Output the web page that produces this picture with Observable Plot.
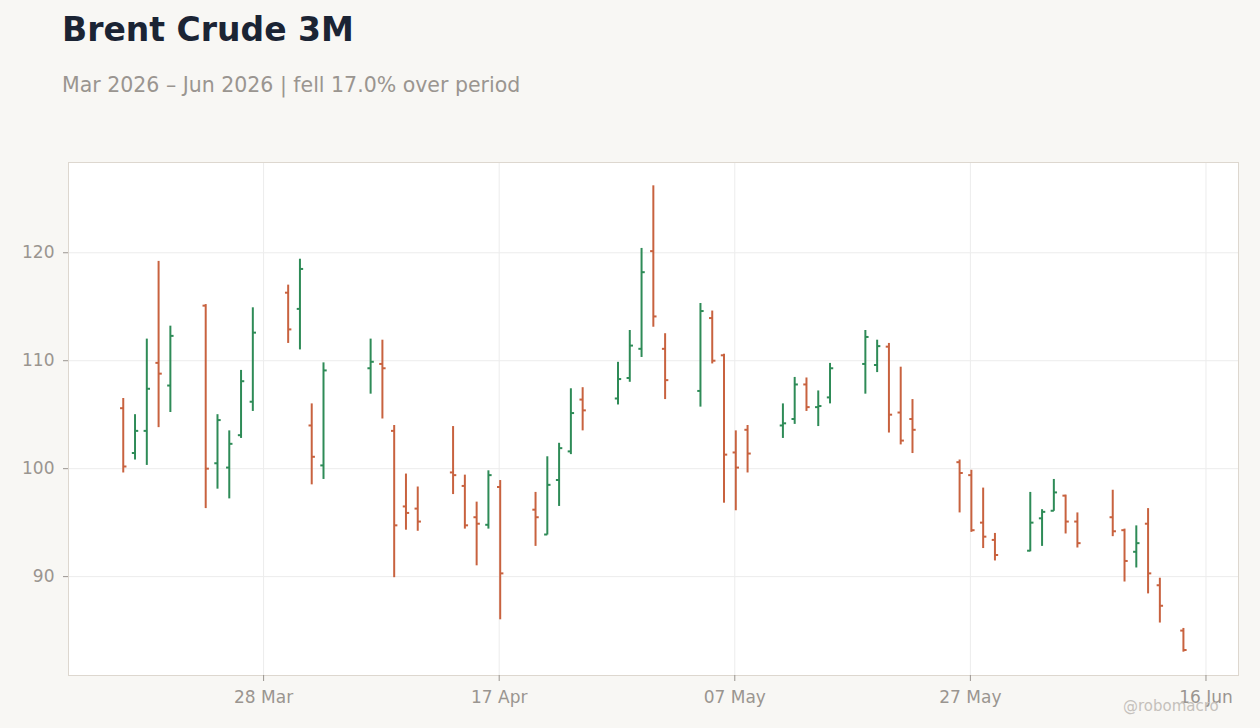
<!DOCTYPE html>
<html>
<head>
<meta charset="utf-8">
<script src="https://cdn.jsdelivr.net/npm/d3@7"></script>
<script src="https://cdn.jsdelivr.net/npm/@observablehq/plot@0.6"></script>
<style>
html, body { margin: 0; padding: 0; background: #f8f7f4; overflow: hidden; }
body { width: 1260px; height: 728px; position: relative; font-family: "DejaVu Sans", sans-serif; }
#title { position: absolute; left: 62px; top: 13px; font-size: 33px; line-height: 33px; font-weight: bold; color: #1b2434; white-space: nowrap; }
#subtitle { position: absolute; left: 62px; top: 75px; font-size: 20.5px; line-height: 20.5px; color: #9a9590; white-space: nowrap; }
#chart { position: absolute; left: 0; top: 140px; }
#credit { position: absolute; left: 1123px; top: 699px; font-size: 15px; line-height: 15px; color: #c5c1bc; white-space: nowrap; }
</style>
</head>
<body>
<div id="title">Brent Crude 3M</div>
<div id="subtitle"></div>
<div id="chart"></div>
<div id="credit">@robomacro</div>
<script>
const dates = [
  "2026-03-16","2026-03-17","2026-03-18","2026-03-19","2026-03-20",
  "2026-03-23","2026-03-24","2026-03-25","2026-03-26","2026-03-27",
  "2026-03-30","2026-03-31","2026-04-01","2026-04-02",
  "2026-04-06","2026-04-07","2026-04-08","2026-04-09","2026-04-10",
  "2026-04-13","2026-04-14","2026-04-15","2026-04-16","2026-04-17",
  "2026-04-20","2026-04-21","2026-04-22","2026-04-23","2026-04-24",
  "2026-04-27","2026-04-28","2026-04-29","2026-04-30","2026-05-01",
  "2026-05-04","2026-05-05","2026-05-06","2026-05-07","2026-05-08",
  "2026-05-11","2026-05-12","2026-05-13","2026-05-14","2026-05-15",
  "2026-05-18","2026-05-19","2026-05-20","2026-05-21","2026-05-22",
  "2026-05-26","2026-05-27","2026-05-28","2026-05-29",
  "2026-06-01","2026-06-02","2026-06-03","2026-06-04","2026-06-05",
  "2026-06-08","2026-06-09","2026-06-10","2026-06-11","2026-06-12",
  "2026-06-14"
];
const open = [
  105.6, 101.45, 103.5, 109.8, 107.7,
  115.1, 100.5, 100.1, 103.1, 106.2,
  116.3, 114.8, 104.0, 100.3,
  109.3, 109.7, 103.5, 96.5, 96.3,
  99.65, 98.4, 95.5, 94.8, 98.3,
  96.2, 93.9, 98.95, 101.6, 106.4,
  106.5, 108.4, 111.1, 120.15, 111.1,
  107.2, 113.95, 110.5, 101.5, 103.6,
  104.0, 104.6, 107.8, 105.7, 106.6,
  109.7, 109.6, 111.3, 105.2, 104.6,
  100.6, 99.4, 95.0, 93.4,
  92.4, 95.4, 96.1, 97.5, 95.1,
  95.5, 94.3, 92.3, 94.9, 89.2,
  85.0
];
const high = [
  106.5, 105.0, 112.0, 119.2, 113.2,
  115.2, 105.0, 103.5, 109.1, 114.9,
  117.0, 119.4, 106.0, 109.8,
  112.0, 111.9, 104.0, 99.5, 98.3,
  103.9, 99.4, 96.9, 99.8, 98.9,
  97.8, 101.1, 102.35, 107.4, 107.5,
  109.85, 112.8, 120.4, 126.2, 112.5,
  115.3, 114.6, 110.6, 103.5, 104.0,
  106.0, 108.45, 108.4, 107.2, 109.75,
  112.8, 111.9, 111.6, 109.4, 106.4,
  100.8, 99.85, 98.2, 94.0,
  97.8, 96.2, 99.0, 97.55, 95.9,
  98.0, 94.4, 94.7, 96.3, 89.85,
  85.2
];
const low = [
  99.6, 100.8, 100.3, 103.8, 105.2,
  96.3, 98.1, 97.2, 102.8, 105.3,
  111.6, 111.0, 98.5, 99.0,
  106.9, 104.6, 89.9, 94.3, 94.2,
  97.6, 94.4, 91.0, 94.4, 86.0,
  92.8, 93.85, 96.5, 101.3, 103.5,
  105.9, 108.0, 110.3, 113.1, 106.4,
  105.7, 109.7, 96.8, 96.1, 99.6,
  102.8, 104.1, 105.3, 103.9, 106.0,
  106.9, 108.9, 103.3, 102.2, 101.4,
  95.9, 94.1, 92.6, 91.45,
  92.3, 92.8, 96.05, 93.95, 92.65,
  93.7, 89.5, 90.8, 88.4, 85.7,
  83.0
];
const close = [
  100.2, 103.5, 107.4, 108.8, 112.3,
  100.0, 104.5, 102.3, 108.1, 112.6,
  112.9, 118.5, 101.1, 109.1,
  109.9, 109.3, 94.75, 95.9, 95.1,
  99.4, 94.75, 94.9, 99.4, 90.3,
  95.5, 98.5, 101.9, 105.15, 105.4,
  108.3, 111.4, 118.2, 114.1, 108.2,
  114.6, 110.0, 101.3, 100.1, 101.4,
  104.2, 107.8, 105.7, 105.8, 109.3,
  112.2, 111.35, 105.0, 102.6, 103.6,
  99.6, 94.3, 93.7, 92.0,
  95.0, 96.0, 97.8, 95.1, 93.1,
  94.2, 91.45, 93.1, 90.3, 87.3,
  83.2
];
const xTickLabels = ["2026-03-28", "2026-04-17", "2026-05-07", "2026-05-27", "2026-06-16"];
const yTicks = [90, 100, 110, 120];

const UP = "#2e8b57", DOWN = "#c8623f";
const parse = s => new Date(s + "T00:00:00Z");
const data = dates.map((d, i) => ({
  date: parse(d), open: open[i], high: high[i], low: low[i], close: close[i],
  color: close[i] > open[i] ? UP : DOWN
}));
const xTicks = xTickLabels.map(parse);

const change = (close[close.length - 1] / close[0] - 1) * 100;
document.getElementById("subtitle").textContent =
  "Mar 2026 \u2013 Jun 2026 | " + (change < 0 ? "fell " : "rose ") + Math.abs(change).toFixed(1) + "% over period";

const t0 = data[0].date, t1 = data[data.length - 1].date;
const span = t1 - t0;
const yMin = d3.min(low), yMax = d3.max(high), yp = (yMax - yMin) * 0.05;

const leftTick = { draw(ctx, size) { const r = Math.sqrt(size / Math.PI); ctx.moveTo(-r, 0); ctx.lineTo(0, 0); } };
const rightTick = { draw(ctx, size) { const r = Math.sqrt(size / Math.PI); ctx.moveTo(0, 0); ctx.lineTo(r, 0); } };

const chart = Plot.plot({
  width: 1260,
  height: 588,
  marginTop: 22,
  marginBottom: 53,
  marginLeft: 68,
  marginRight: 22,
  style: { fontSize: "17px", fontFamily: "DejaVu Sans, sans-serif", background: "transparent", overflow: "visible" },
  x: { type: "utc", domain: [new Date(+t0 - span * 0.0507), new Date(+t1 + span * 0.0529)] },
  y: { domain: [yMin - yp, yMax + yp] },
  color: { type: "identity" },
  marks: [
    Plot.frame({ fill: "white", stroke: "none" }),
    Plot.gridX(xTicks, { stroke: "#ececec", strokeOpacity: 1 }),
    Plot.gridY(yTicks, { stroke: "#ececec", strokeOpacity: 1 }),
    Plot.ruleX(data, { x: "date", y1: "low", y2: "high", stroke: "color", strokeWidth: 2, dx: 1 }),
    Plot.dot(data, { x: "date", y: "open", symbol: leftTick, r: 3.2, stroke: "color", fill: "none", strokeWidth: 2, dx: 1 }),
    Plot.dot(data, { x: "date", y: "close", symbol: rightTick, r: 3.2, stroke: "color", fill: "none", strokeWidth: 2, dx: 1 }),
    Plot.frame({ stroke: "#ddd7cf" }),
    Plot.axisX(xTicks, { tickFormat: d3.utcFormat("%d %b"), tickSize: 6, tickPadding: 9, color: "#9a9590" }),
    Plot.axisY(yTicks, { tickSize: 5, tickPadding: 9, color: "#9a9590" })
  ]
});
document.getElementById("chart").appendChild(chart);
</script>
</body>
</html>
